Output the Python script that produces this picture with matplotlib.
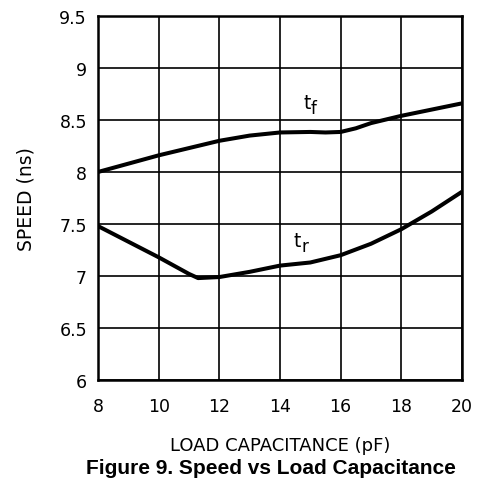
import matplotlib

matplotlib.use("Agg")
import matplotlib.pyplot as plt

# load capacitance (pF) and speed (ns)
cap_tf = [8, 9, 10, 11, 12, 13, 14, 15, 15.5, 16, 16.5, 17, 18, 19, 20]
tf = [8.0, 8.08, 8.16, 8.23, 8.30, 8.35, 8.38, 8.385, 8.38, 8.385, 8.42, 8.47, 8.54, 8.60, 8.66]

cap_tr = [8, 9, 10, 11, 11.3, 12, 13, 14, 15, 16, 17, 18, 19, 20]
tr = [7.48, 7.33, 7.18, 7.02, 6.98, 6.99, 7.04, 7.10, 7.13, 7.20, 7.31, 7.45, 7.62, 7.81]

x_ticks = [8, 10, 12, 14, 16, 18, 20]
y_ticks = [6, 6.5, 7, 7.5, 8, 8.5, 9, 9.5]
y_labels = ["6", "6.5", "7", "7.5", "8", "8.5", "9", "9.5"]

fig = plt.figure(figsize=(4.82, 4.85), dpi=100)
ax = fig.add_axes([0.2033, 0.2144, 0.7552, 0.7506])

ax.plot(cap_tf, tf, color="black", lw=2.9, solid_capstyle="butt")
ax.plot(cap_tr, tr, color="black", lw=2.9, solid_capstyle="butt")

# curve labels: "t" plus a big, slightly lowered subscript letter
for x, y, sub in [(14.76, 8.615, "f"), (14.46, 7.29, "r")]:
    ax.text(x, y, "t", fontsize=13.5, ha="left", va="baseline")
    ax.annotate(sub, (x, y), xytext=(5.5, -3.5), textcoords="offset points",
                fontsize=12, ha="left", va="baseline")

ax.set_xlim(8, 20)
ax.set_ylim(6, 9.5)
ax.set_xticks(x_ticks)
ax.set_yticks(y_ticks)
ax.set_yticklabels(y_labels)
ax.tick_params(length=0, labelsize=12.5)
ax.tick_params(axis="y", pad=8)
ax.tick_params(axis="x", pad=12)
ax.grid(True, color="black", lw=1.2)
for s in ax.spines.values():
    s.set_linewidth(1.8)

ax.set_ylabel("SPEED (ns)", fontsize=13.5, labelpad=17)
ax.set_xlabel("LOAD CAPACITANCE (pF)", fontsize=13, labelpad=15)

fig.text(0.563, 0.035, "Figure 9. Speed vs Load Capacitance",
         ha="center", va="center", fontsize=15, fontweight="bold",
         family="Liberation Sans")

fig.savefig("out.png", dpi=100)
